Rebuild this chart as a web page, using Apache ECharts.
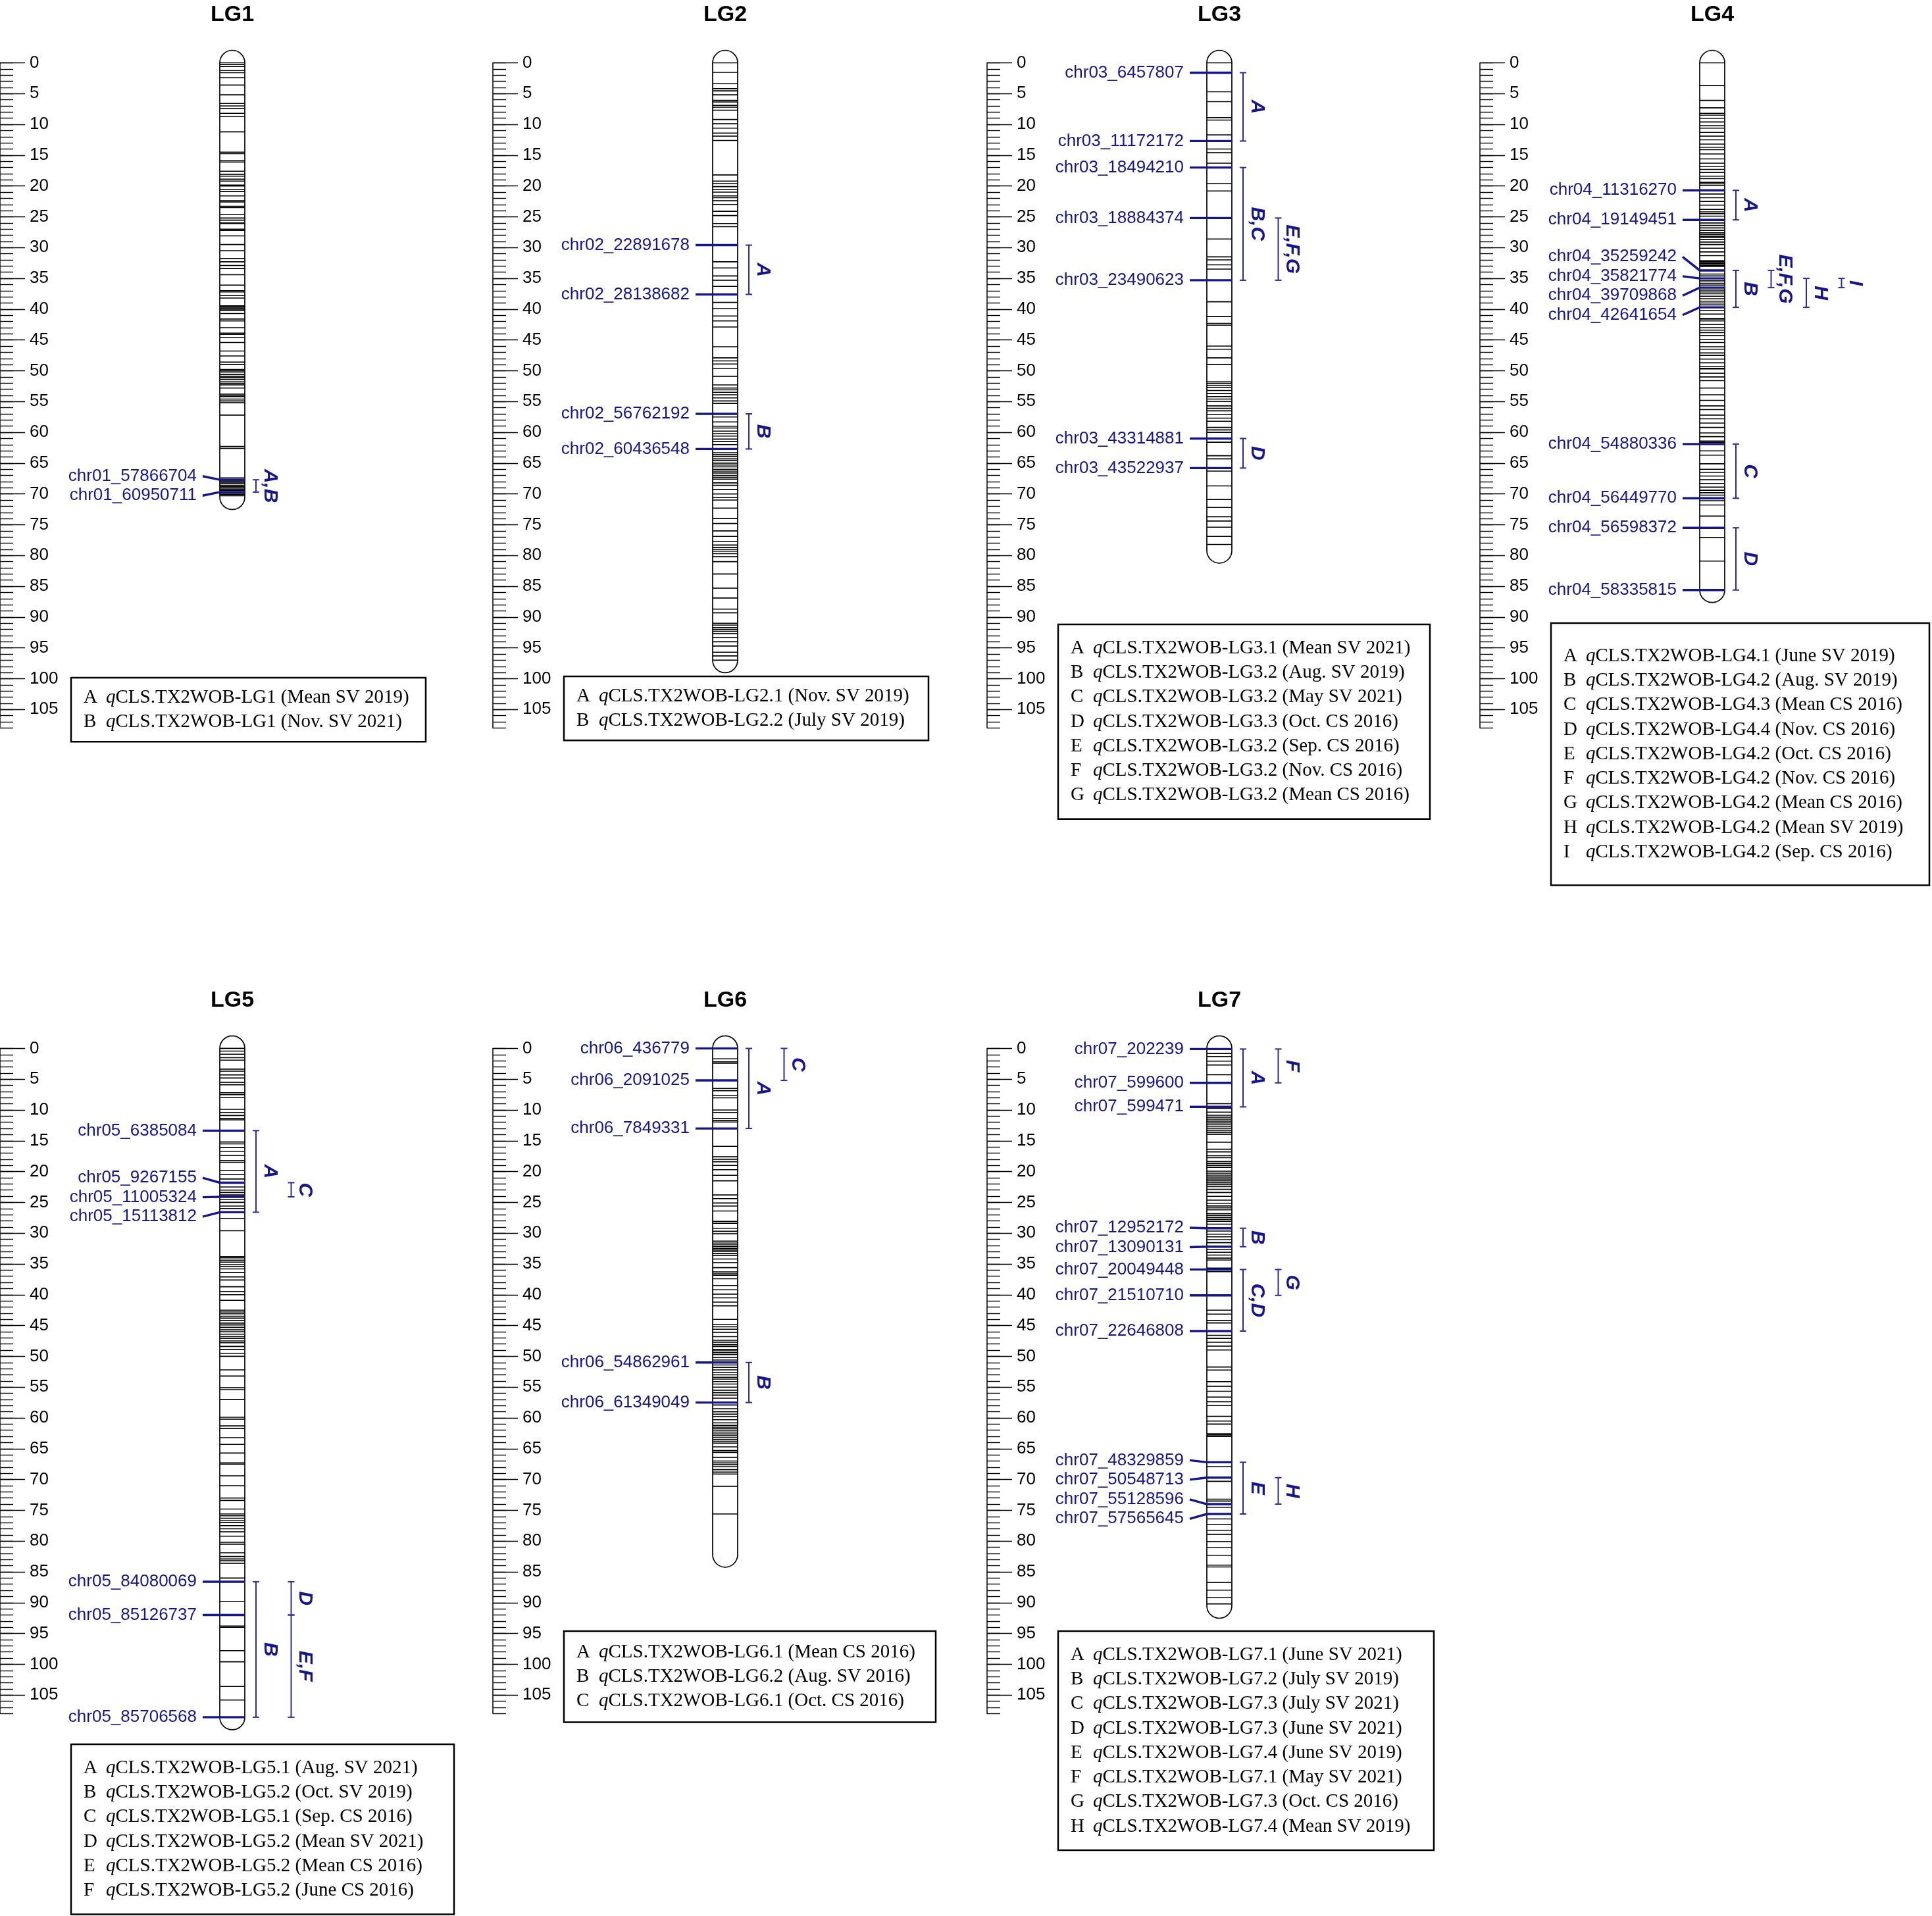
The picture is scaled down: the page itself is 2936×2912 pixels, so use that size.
<!DOCTYPE html>
<html>
<head>
<meta charset="utf-8">
<title>CLS QTL linkage map</title>
<script src="https://cdn.jsdelivr.net/npm/echarts@6/dist/echarts.min.js"></script>
<style>
  html, body { margin: 0; padding: 0; background: #fff; }
  #map { width: 2936px; height: 2912px; }
</style>
</head>
<body>
<div id="map"></div>
<script>
// linkage groups and their lengths (cM)
const groups = ['LG1', 'LG2', 'LG3', 'LG4', 'LG5', 'LG6', 'LG7'];
const groupLength = [70.5, 97.0, 79.2, 85.6, 108.6, 82.2, 90.5];

// ruler tick labels (cM)
const rulerLabels = [0, 5, 10, 15, 20, 25, 30, 35, 40, 45, 50, 55, 60, 65, 70, 75, 80, 85, 90, 95, 100, 105];
const rulerMax = 108;

// marker positions (cM) per linkage group
const lg1Markers = [0, 0.25, 0.6, 1.25, 1.6, 2.4, 3.6, 5.2, 6.6, 7.0, 7.4, 8.2, 8.7, 11.2, 14.5, 14.75, 15.9, 16.1,
  17.6, 18.1, 18.4, 18.9, 19.2, 19.85, 20.0, 20.6, 20.9, 21.6, 22.4, 22.6, 23.3, 23.5, 24.6, 25.2, 25.55, 26.0, 26.1,
  27.0, 27.2, 28.1, 29.5, 30.5, 31.8, 32.3, 32.9, 33.4, 34.4, 36.1, 37.0, 37.2, 37.8, 38.2, 39.45, 39.6, 39.8, 40.0,
  40.2, 40.7, 41.6, 41.9, 43.0, 43.9, 44.1, 44.6, 45.4, 46.8, 47.6, 48.6, 49.0, 49.8, 50.0, 50.2, 50.6, 50.9, 51.1,
  51.4, 51.8, 52.1, 52.3, 52.8, 53.8, 54.0, 54.2, 54.6, 54.9, 55.2, 57.2, 62.3, 62.6, 67.4, 67.7, 67.9, 68.1, 68.3,
  68.6, 68.8, 69.0, 69.2, 69.4, 69.7, 69.9, 70.1, 70.3];
const lg2Markers = [0, 1.55, 3.4, 4.2, 4.55, 5.2, 6.1, 6.35, 6.9, 7.2, 7.7, 9.2, 9.9, 10.6, 11.4, 11.9, 12.6, 18.2,
  19.2, 19.6, 20.1, 20.6, 21.0, 21.6, 21.9, 22.4, 23.0, 24.1, 24.8, 26.1, 26.6, 29.6, 32.3, 33.3, 34.6, 35.3, 36.3,
  37.6, 38.9, 39.9, 41.1, 41.9, 42.9, 46.1, 47.9, 48.4, 48.9, 49.6, 50.9, 52.3, 52.8, 53.1, 53.5, 53.9, 54.4, 54.9,
  55.3, 57.0, 57.5, 58.3, 59.0, 59.3, 59.8, 60.2, 60.6, 61.1, 61.5, 62.0, 62.7, 63.3, 63.6, 63.9, 64.3, 64.6, 65.0,
  65.3, 65.6, 66.0, 66.3, 66.6, 67.0, 67.3, 67.6, 68.2, 68.6, 69.3, 70.0, 70.6, 71.0, 72.3, 74.0, 74.8, 76.0, 76.9,
  77.7, 78.3, 78.7, 79.0, 79.3, 79.7, 80.2, 81.0, 83.0, 85.3, 86.9, 88.7, 89.3, 91.0, 91.3, 91.7, 92.0, 92.3, 92.7,
  93.3, 94.0, 94.7, 95.7, 96.3, 97.0];
const lg3Markers = [0, 1.6, 4.7, 6.3, 8.9, 9.3, 11.7, 12.7, 14.0, 14.6, 16.3, 17.0, 19.6, 20.8, 25.2, 28.6, 31.5,
  32.0, 32.8, 33.5, 35.3, 38.8, 41.2, 42.3, 42.6, 46.0, 46.5, 47.9, 49.0, 51.8, 52.1, 52.4, 52.7, 53.2, 53.7, 54.2,
  54.6, 55.0, 55.7, 56.1, 56.5, 57.1, 57.7, 58.2, 59.2, 59.6, 60.0, 61.0, 61.6, 63.8, 64.3, 65.8, 66.3, 68.7, 70.9,
  72.2, 73.7, 74.4, 75.4, 76.9, 78.2];
const lg4Markers = [0, 3.7, 6.1, 7.3, 8.2, 8.5, 9.0, 9.6, 10.2, 10.6, 11.3, 11.9, 12.5, 13.2, 13.7, 14.1, 14.8, 15.6,
  16.3, 16.8, 17.3, 17.8, 18.4, 18.8, 19.4, 19.65, 19.9, 20.7, 21.3, 21.9, 22.5, 23.1, 23.8, 24.2, 24.5, 24.9, 25.5,
  26.0, 26.4, 26.8, 27.2, 27.6, 27.9, 28.2, 28.4, 28.7, 29.1, 29.5, 30.1, 30.7, 31.3, 32.1, 32.3, 32.4, 32.6, 32.7,
  32.9, 33.1, 33.7, 34.3, 34.6, 35.0, 35.4, 35.8, 36.1, 36.5, 36.9, 37.2, 37.5, 37.9, 38.3, 38.7, 39.0, 39.3, 39.7,
  40.2, 40.8, 41.5, 41.6, 41.9, 42.5, 43.0, 43.4, 43.8, 44.3, 44.9, 45.4, 46.1, 46.5, 47.1, 47.5, 48.1, 48.7, 49.3,
  49.6, 49.7, 50.4, 51.0, 51.6, 52.8, 53.9, 54.8, 55.7, 56.3, 57.2, 57.8, 58.5, 59.2, 60.1, 60.7, 61.4, 61.6, 61.9,
  63.0, 63.7, 65.1, 66.0, 66.5, 67.1, 67.7, 68.3, 68.9, 69.4, 69.8, 70.2, 70.7, 71.1, 71.8, 73.6, 75.5, 77.1, 80.9,
  85.6];
const lg5Markers = [0, 0.44, 0.95, 1.5, 1.9, 3.36, 3.7, 4.3, 4.8, 5.5, 5.9, 7.2, 7.5, 7.95, 9.9, 10.4, 10.9, 11.4,
  11.6, 13.35, 15.2, 15.5, 16.1, 16.7, 17.4, 18.2, 18.5, 19.8, 20.5, 21.2, 21.8, 22.5, 23.0, 23.4, 23.8, 24.1, 24.5,
  25.0, 25.6, 26.0, 26.6, 27.6, 29.6, 33.8, 34.0, 34.4, 34.7, 35.1, 35.4, 35.8, 36.4, 37.1, 37.6, 38.7, 39.5, 40.0,
  40.9, 42.5, 42.8, 43.1, 43.5, 43.8, 44.2, 44.6, 44.9, 45.3, 45.7, 46.0, 46.4, 46.8, 47.1, 47.5, 47.8, 48.4, 48.9,
  49.5, 50.0, 52.2, 53.2, 55.1, 55.4, 57.0, 59.9, 60.2, 61.3, 61.7, 63.2, 64.3, 65.7, 67.3, 67.5, 69.4, 71.0, 73.0,
  73.4, 74.8, 75.6, 75.9, 76.3, 76.7, 77.0, 77.5, 78.0, 78.5, 79.2, 80.2, 80.5, 81.9, 82.5, 82.9, 83.2, 83.6, 86.0,
  86.6, 89.8, 92.0, 93.8, 94.0, 97.8, 99.6, 103.6, 105.8, 108.6];
const lg6Markers = [0, 1.7, 2.17, 2.4, 5.2, 6.5, 6.86, 7.68, 8.03, 10.0, 10.4, 11.4, 11.7, 11.95, 13.0, 15.9, 17.6,
  18.0, 18.4, 19.0, 19.7, 20.6, 21.5, 23.8, 24.4, 25.1, 25.6, 26.4, 28.1, 28.4, 29.2, 29.7, 30.1, 31.3, 31.6, 31.9,
  32.2, 32.5, 32.75, 33.0, 33.3, 33.6, 34.2, 34.8, 35.6, 36.3, 36.6, 36.85, 37.4, 38.5, 39.2, 39.9, 40.5, 41.2, 41.8,
  44.0, 44.8, 45.2, 45.6, 46.1, 46.8, 47.4, 47.7, 48.1, 48.4, 48.9, 49.1, 49.4, 49.7, 50.2, 50.6, 51.0, 51.4, 51.8,
  52.2, 52.6, 53.0, 53.4, 53.7, 54.1, 54.5, 55.0, 55.5, 55.9, 56.3, 56.8, 57.5, 57.9, 58.5, 59.0, 59.4, 59.8, 60.3,
  60.8, 61.2, 61.5, 61.75, 62.0, 62.3, 62.6, 62.9, 63.2, 63.5, 63.8, 64.1, 64.7, 65.3, 65.6, 66.4, 67.0, 67.3, 67.6,
  67.9, 68.4, 68.8, 69.1, 71.1, 75.6];
const lg7Markers = [0.1, 0.82, 1.32, 2.07, 2.7, 4.27, 5.6, 8.97, 9.5, 9.72, 10.35, 10.85, 11.16, 11.48, 11.8, 12.1,
  12.4, 12.73, 13.04, 13.36, 13.67, 13.98, 15.24, 16.37, 16.8, 17.43, 17.75, 18.37, 18.69, 19.0, 19.31, 19.94, 20.25,
  20.57, 20.88, 21.2, 21.5, 21.82, 22.13, 22.45, 22.89, 23.39, 24.02, 24.64, 25.15, 25.58, 25.9, 26.21, 26.84, 27.15,
  27.46, 27.78, 28.09, 28.53, 29.2, 29.66, 30.16, 30.6, 31.04, 31.54, 32.2, 32.67, 33.1, 33.55, 34.05, 34.36, 35.68,
  35.9, 36.24, 40.1, 42.51, 43.14, 44.2, 44.58, 45.9, 46.59, 47.09, 47.71, 48.34, 48.97, 51.73, 52.23, 54.11, 54.86,
  55.68, 56.62, 57.37, 58.0, 59.75, 60.5, 61.0, 62.57, 62.76, 63.0, 67.2, 67.9, 69.7, 70.3, 73.2, 73.5, 74.0, 74.5,
  75.6, 76.4, 77.3, 78.25, 78.9, 80.1, 81.07, 82.3, 83.9, 84.2, 86.7, 87.97, 89.2, 90.2];

// named markers: [name, position cM]
const lg1Named = [['chr01_57866704', 67.7], ['chr01_60950711', 69.7]];
const lg2Named = [['chr02_22891678', 29.6], ['chr02_28138682', 37.6], ['chr02_56762192', 57.0], ['chr02_60436548', 62.7]];
const lg3Named = [['chr03_6457807', 1.6], ['chr03_11172172', 12.7], ['chr03_18494210', 17.0], ['chr03_18884374', 25.2],
  ['chr03_23490623', 35.3], ['chr03_43314881', 61.0], ['chr03_43522937', 65.8]];
const lg4Named = [['chr04_11316270', 20.7], ['chr04_19149451', 25.5], ['chr04_35259242', 33.7], ['chr04_35821774', 35.0],
  ['chr04_39709868', 36.5], ['chr04_42641654', 39.7], ['chr04_54880336', 61.9], ['chr04_56449770', 70.7],
  ['chr04_56598372', 75.5], ['chr04_58335815', 85.6]];
const lg5Named = [['chr05_6385084', 13.35], ['chr05_9267155', 21.8], ['chr05_11005324', 24.1], ['chr05_15113812', 26.6],
  ['chr05_84080069', 86.6], ['chr05_85126737', 92.0], ['chr05_85706568', 108.6]];
const lg6Named = [['chr06_436779', 0.0], ['chr06_2091025', 5.2], ['chr06_7849331', 13.0], ['chr06_54862961', 51.0],
  ['chr06_61349049', 57.5]];
const lg7Named = [['chr07_202239', 0.1], ['chr07_599600', 5.6], ['chr07_599471', 9.5], ['chr07_12952172', 29.2],
  ['chr07_13090131', 32.2], ['chr07_20049448', 35.9], ['chr07_21510710', 40.1], ['chr07_22646808', 45.9],
  ['chr07_48329859', 67.2], ['chr07_50548713', 69.7], ['chr07_55128596', 74.0], ['chr07_57565645', 75.6]];

// QTL intervals: [letters, start cM, end cM]
const lg1Qtl = [['A,B', 67.7, 69.7]];
const lg2Qtl = [['A', 29.6, 37.6], ['B', 57.0, 62.7]];
const lg3Qtl = [['A', 1.6, 12.7], ['B,C', 17.0, 35.3], ['D', 61.0, 65.8], ['E,F,G', 25.2, 35.3]];
const lg4Qtl = [['A', 20.7, 25.5], ['B', 33.7, 39.7], ['C', 61.9, 70.7], ['D', 75.5, 85.6], ['E,F,G', 33.7, 36.5],
  ['H', 35.0, 39.7], ['I', 35.0, 36.5]];
const lg5Qtl = [['A', 13.35, 26.6], ['B', 86.6, 108.6], ['C', 21.8, 24.1], ['D', 86.6, 92.0], ['E,F', 92.0, 108.6]];
const lg6Qtl = [['A', 0.0, 13.0], ['B', 51.0, 57.5], ['C', 0.0, 5.2]];
const lg7Qtl = [['A', 0.1, 9.5], ['B', 29.2, 32.2], ['C,D', 35.9, 45.9], ['E', 67.2, 75.6], ['F', 0.1, 5.6],
  ['G', 35.9, 40.1], ['H', 69.7, 74.0]];

// legend entries
const lg1Legend = [['A', 'qCLS.TX2WOB-LG1 (Mean SV 2019)'], ['B', 'qCLS.TX2WOB-LG1 (Nov. SV 2021)']];
const lg2Legend = [['A', 'qCLS.TX2WOB-LG2.1 (Nov. SV 2019)'], ['B', 'qCLS.TX2WOB-LG2.2 (July SV 2019)']];
const lg3Legend = [['A', 'qCLS.TX2WOB-LG3.1 (Mean SV 2021)'], ['B', 'qCLS.TX2WOB-LG3.2 (Aug. SV 2019)'],
  ['C', 'qCLS.TX2WOB-LG3.2 (May SV 2021)'], ['D', 'qCLS.TX2WOB-LG3.3 (Oct. CS 2016)'],
  ['E', 'qCLS.TX2WOB-LG3.2 (Sep. CS 2016)'], ['F', 'qCLS.TX2WOB-LG3.2 (Nov. CS 2016)'],
  ['G', 'qCLS.TX2WOB-LG3.2 (Mean CS 2016)']];
const lg4Legend = [['A', 'qCLS.TX2WOB-LG4.1 (June SV 2019)'], ['B', 'qCLS.TX2WOB-LG4.2 (Aug. SV 2019)'],
  ['C', 'qCLS.TX2WOB-LG4.3 (Mean CS 2016)'], ['D', 'qCLS.TX2WOB-LG4.4 (Nov. CS 2016)'],
  ['E', 'qCLS.TX2WOB-LG4.2 (Oct. CS 2016)'], ['F', 'qCLS.TX2WOB-LG4.2 (Nov. CS 2016)'],
  ['G', 'qCLS.TX2WOB-LG4.2 (Mean CS 2016)'], ['H', 'qCLS.TX2WOB-LG4.2 (Mean SV 2019)'],
  ['I', 'qCLS.TX2WOB-LG4.2 (Sep. CS 2016)']];
const lg5Legend = [['A', 'qCLS.TX2WOB-LG5.1 (Aug. SV 2021)'], ['B', 'qCLS.TX2WOB-LG5.2 (Oct. SV 2019)'],
  ['C', 'qCLS.TX2WOB-LG5.1 (Sep. CS 2016)'], ['D', 'qCLS.TX2WOB-LG5.2 (Mean SV 2021)'],
  ['E', 'qCLS.TX2WOB-LG5.2 (Mean CS 2016)'], ['F', 'qCLS.TX2WOB-LG5.2 (June CS 2016)']];
const lg6Legend = [['A', 'qCLS.TX2WOB-LG6.1 (Mean CS 2016)'], ['B', 'qCLS.TX2WOB-LG6.2 (Aug. SV 2016)'],
  ['C', 'qCLS.TX2WOB-LG6.1 (Oct. CS 2016)']];
const lg7Legend = [['A', 'qCLS.TX2WOB-LG7.1 (June SV 2021)'], ['B', 'qCLS.TX2WOB-LG7.2 (July SV 2019)'],
  ['C', 'qCLS.TX2WOB-LG7.3 (July SV 2021)'], ['D', 'qCLS.TX2WOB-LG7.3 (June SV 2021)'],
  ['E', 'qCLS.TX2WOB-LG7.4 (June SV 2019)'], ['F', 'qCLS.TX2WOB-LG7.1 (May SV 2021)'],
  ['G', 'qCLS.TX2WOB-LG7.3 (Oct. CS 2016)'], ['H', 'qCLS.TX2WOB-LG7.4 (Mean SV 2019)']];

const markers = [lg1Markers, lg2Markers, lg3Markers, lg4Markers, lg5Markers, lg6Markers, lg7Markers];
const named = [lg1Named, lg2Named, lg3Named, lg4Named, lg5Named, lg6Named, lg7Named];
const qtls = [lg1Qtl, lg2Qtl, lg3Qtl, lg4Qtl, lg5Qtl, lg6Qtl, lg7Qtl];
const legends = [lg1Legend, lg2Legend, lg3Legend, lg4Legend, lg5Legend, lg6Legend, lg7Legend];

// layout (px)
const rulerX = [0, 749, 1500, 2249, 0, 749, 1500];
const rowTop = [95.5, 95.5, 95.5, 95.5, 1593.4, 1593.4, 1593.4];
const PX_CM = 9.36;
const CHROM_OFF = 353;
const HW = 19;            // half width of a chromosome
const LABEL_GAP = 29.5;   // min distance between stacked marker labels
const QTL_COL = 53.5;
const boxTop = [1030, 1028, 949, 947, 2651, 2479, 2479];
const boxW = [539, 554, 565, 575, 582, 565, 571];
const boxPad = [30, 30, 36, 50, 36, 32, 36];
const LINE_H = 37.3;

const NAVY = '#15158c';
const QTL_BLUE = '#2c2c9e';
const SANS = '"Liberation Sans", Arial, sans-serif';
const SERIF = '"Liberation Serif", "Times New Roman", serif';

// push overlapping labels apart, keeping each block centred on its markers
function spreadLabels (values, gap) {
  let blocks = values.map(v => ({ sum: v, n: 1 }));
  const top = b => b.sum / b.n - (b.n - 1) * gap / 2;
  const bottom = b => b.sum / b.n + (b.n - 1) * gap / 2;
  let merged = true;
  while (merged) {
    merged = false;
    for (let i = 0; i < blocks.length - 1; i++) {
      if (top(blocks[i + 1]) - bottom(blocks[i]) < gap - 1e-9) {
        blocks[i] = { sum: blocks[i].sum + blocks[i + 1].sum, n: blocks[i].n + blocks[i + 1].n };
        blocks.splice(i + 1, 1);
        merged = true;
        break;
      }
    }
  }
  let out = [];
  blocks.forEach(b => { for (let k = 0; k < b.n; k++) out.push(top(b) + k * gap); });
  return out;
}

// first free column for each QTL bracket
function qtlColumns (list) {
  let cols = [];
  return list.map(([, s, e]) => {
    let c = 0;
    while ((cols[c] || []).some(([a, b]) => s < b && e > a)) c++;
    (cols[c] = cols[c] || []).push([s, e]);
    return c;
  });
}

let grid = [], xAxis = [], yAxis = [], series = [], graphic = [];

groups.forEach((name, g) => {
  const cx = rulerX[g] + CHROM_OFF;
  grid.push({ left: rulerX[g], top: rowTop[g], width: 680, height: rulerMax * PX_CM });
  xAxis.push({ gridIndex: g, type: 'value', min: 0, max: 680, show: false });
  // minor ruler ticks every cM
  yAxis.push({
    gridIndex: g, type: 'value', inverse: true, min: 0, max: rulerMax, position: 'left',
    axisLine: { show: true, lineStyle: { color: '#000', width: 1.5 } },
    axisTick: { show: true, inside: true, length: 20, customValues: Array.from({ length: rulerMax + 1 }, (_, i) => i),
      lineStyle: { color: '#000', width: 1.4 } },
    axisLabel: { show: false },
    splitLine: { show: false }
  });
  // major ruler ticks with labels
  yAxis.push({
    gridIndex: g, type: 'value', inverse: true, min: 0, max: rulerMax, position: 'left',
    axisLine: { show: false },
    axisTick: { show: true, inside: true, length: 38, customValues: rulerLabels, lineStyle: { color: '#000', width: 1.4 } },
    axisLabel: { show: true, inside: true, margin: 45, customValues: rulerLabels, fontSize: 26, fontFamily: SANS, color: '#000' },
    splitLine: { show: false }
  });
  const yIdx = 2 * g + 1;

  // chromosome outline
  series.push({
    type: 'custom', xAxisIndex: g, yAxisIndex: yIdx, silent: true, z: 2,
    data: [[0, 0, groupLength[g]]],
    renderItem: (params, api) => {
      const y0 = api.coord([0, api.value(1)])[1];
      const y1 = api.coord([0, api.value(2)])[1];
      return {
        type: 'rect',
        shape: { x: cx - HW, y: y0 - HW, width: 2 * HW, height: y1 - y0 + 2 * HW, r: HW },
        style: { fill: '#fff', stroke: '#000', lineWidth: 1.7 }
      };
    }
  });

  // marker lines
  series.push({
    type: 'custom', xAxisIndex: g, yAxisIndex: yIdx, silent: true, z: 3,
    data: markers[g].map(v => [0, v]),
    renderItem: (params, api) => {
      const y = api.coord([0, api.value(1)])[1];
      return { type: 'line', shape: { x1: cx - HW, y1: y, x2: cx + HW, y2: y }, style: { stroke: '#000', lineWidth: 1.6 } };
    }
  });

  // named markers with labels
  const labelPos = spreadLabels(named[g].map(m => m[1]), LABEL_GAP / PX_CM);
  series.push({
    type: 'custom', xAxisIndex: g, yAxisIndex: yIdx, silent: true, z: 4,
    data: named[g].map((m, i) => [0, m[1], labelPos[i]]),
    renderItem: (params, api) => {
      const yM = api.coord([0, api.value(1)])[1];
      const yL = api.coord([0, api.value(2)])[1];
      const left = cx - HW;
      return {
        type: 'group',
        children: [
          { type: 'polyline', shape: { points: [[left - 26, yL], [left, yM], [cx + HW, yM]] },
            style: { stroke: NAVY, lineWidth: 3.4, fill: null } },
          { type: 'text', x: left - 35, y: yL,
            style: { text: named[g][params.dataIndex][0], fill: NAVY, fontSize: 26, fontFamily: SANS,
              align: 'right', verticalAlign: 'middle' } }
        ]
      };
    }
  });

  // QTL brackets
  const cols = qtlColumns(qtls[g]);
  series.push({
    type: 'custom', xAxisIndex: g, yAxisIndex: yIdx, silent: true, z: 5,
    data: qtls[g].map((q, i) => [0, q[1], q[2], cols[i]]),
    renderItem: (params, api) => {
      const ys = api.coord([0, api.value(1)])[1];
      const ye = api.coord([0, api.value(2)])[1];
      const bx = cx + HW + 17 + api.value(3) * QTL_COL;
      const st = { stroke: QTL_BLUE, lineWidth: 2 };
      return {
        type: 'group',
        children: [
          { type: 'line', shape: { x1: bx, y1: ys, x2: bx, y2: ye }, style: st },
          { type: 'line', shape: { x1: bx - 5, y1: ys, x2: bx + 5, y2: ys }, style: st },
          { type: 'line', shape: { x1: bx - 5, y1: ye, x2: bx + 5, y2: ye }, style: st },
          { type: 'text', x: bx + 21, y: (ys + ye) / 2, rotation: -Math.PI / 2,
            style: { text: qtls[g][params.dataIndex][0], fill: NAVY, fontSize: 30, fontWeight: 'bold',
              fontStyle: 'italic', fontFamily: SANS, align: 'center', verticalAlign: 'middle' } }
        ]
      };
    }
  });

  // title
  graphic.push({
    type: 'text', x: cx, y: rowTop[g] - 73,
    style: { text: name, fontSize: 34, fontWeight: 'bold', fontFamily: SANS, fill: '#000',
      align: 'center', verticalAlign: 'middle' }
  });

  // legend box
  const bx = rulerX[g] + 108;
  const rows = legends[g];
  const bh = 2 * boxPad[g] + (rows.length - 1) * LINE_H;
  graphic.push({
    type: 'rect', shape: { x: bx, y: boxTop[g], width: boxW[g], height: bh },
    style: { fill: null, stroke: '#000', lineWidth: 2.5 }
  });
  rows.forEach(([letter, qtlName], k) => {
    const y = boxTop[g] + boxPad[g] + k * LINE_H;
    graphic.push({
      type: 'text', x: bx + 19, y: y,
      style: { text: letter, fontSize: 29, fontFamily: SERIF, fill: '#000', align: 'left', verticalAlign: 'middle' }
    });
    graphic.push({
      type: 'text', x: bx + 53, y: y,
      style: {
        text: '{i|' + qtlName[0] + '}{n|' + qtlName.slice(1) + '}',
        fontSize: 29, fontFamily: SERIF, fill: '#000', align: 'left', verticalAlign: 'middle',
        rich: {
          i: { fontSize: 29, fontFamily: SERIF, fontStyle: 'italic', fill: '#000' },
          n: { fontSize: 29, fontFamily: SERIF, fill: '#000' }
        }
      }
    });
  });
});

const chart = echarts.init(document.getElementById('map'), null, { renderer: 'canvas' });
chart.setOption({
  animation: false,
  backgroundColor: '#fff',
  grid: grid,
  xAxis: xAxis,
  yAxis: yAxis,
  series: series,
  graphic: { elements: graphic }
});
</script>
</body>
</html>
